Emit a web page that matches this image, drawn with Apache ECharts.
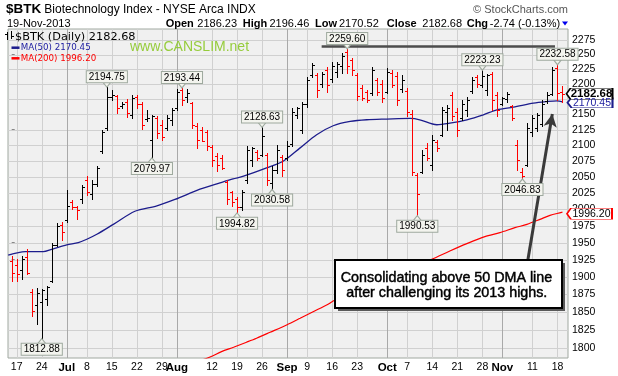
<!DOCTYPE html>
<html><head><meta charset="utf-8">
<script src="https://cdn.jsdelivr.net/npm/echarts@6/dist/echarts.min.js"></script>
<style>html,body{margin:0;padding:0;background:#fff}#c{width:618px;height:376px}</style>
</head><body><div id="c"></div>
<script>
// ---- data (index 0 = 14-Jun-2013 ... index 110 = 19-Nov-2013, trading days) ----
const opens = [
1922.8,1916.9,1909.7,1928.6,1878.1,1859.7,1864.0,1868.2,1894.3,1946.2,
1975.9,1983.4,2010.6,2003.0,2015.2,2045.9,2022.9,2039.7,2091.4,2128.1,
2178.8,2180.4,2164.0,2170.5,2149.2,2178.8,2167.2,2142.7,2108.9,2144.4,
2133.0,2128.1,2141.1,2160.7,2190.3,2178.8,2168.9,2131.4,2124.9,2121.7,
2097.8,2083.5,2080.4,2042.8,2025.9,2015.2,2003.0,2045.9,2077.2,2089.8,
2085.1,2085.1,2041.3,2061.5,2081.9,2080.4,2102.5,2149.2,2124.9,2167.2,
2215.4,2215.4,2200.3,2223.8,2208.7,2220.4,2230.6,2254.4,2240.7,2215.4,
2193.6,2187.0,2185.4,2207.0,2200.3,2187.0,2218.8,2213.7,2192.0,2188.7,
2150.9,2053.7,2058.4,2096.2,2069.4,2105.7,2116.9,2154.1,2182.1,2154.1,
2144.4,2157.4,2188.7,2212.0,2198.7,2190.3,2217.1,2182.1,2167.2,2175.4,
2164.0,2101.0,2058.4,2069.4,2121.7,2128.1,2134.6,2172.2,2183.8,2227.2,2186.23];
const highs = [
1930.5,1925.7,1930.5,1940.3,1882.4,1883.4,1882.4,1886.3,1950.2,1980.0,
1980.9,2029.0,2013.7,2005.0,2036.7,2051.0,2045.9,2066.7,2124.9,2194.75,
2190.3,2182.1,2171.0,2175.4,2182.1,2182.1,2171.0,2157.4,2149.2,2146.5,
2141.1,2149.2,2160.7,2191.0,2193.44,2192.0,2171.0,2136.2,2129.8,2124.9,
2100.9,2088.3,2085.1,2045.9,2027.9,2018.3,2030.5,2098.2,2097.8,2093.0,
2128.63,2088.3,2066.7,2100.9,2085.1,2106.2,2160.7,2162.8,2171.0,2212.5,
2235.6,2218.8,2220.9,2229.4,2237.8,2237.8,2252.2,2259.60,2243.6,2218.8,
2198.7,2190.3,2229.4,2209.9,2207.0,2226.7,2223.8,2220.9,2215.4,2193.6,
2157.4,2056.4,2093.0,2103.6,2116.9,2108.9,2162.8,2165.6,2187.5,2160.7,
2173.8,2179.2,2212.5,2215.4,2223.23,2217.1,2220.9,2187.5,2179.2,2187.5,
2165.6,2108.9,2064.6,2136.2,2149.2,2152.0,2173.8,2187.5,2229.4,2232.58,2196.46];
const lows = [
1894.3,1894.3,1896.7,1903.9,1844.7,1833.2,1812.88,1859.7,1891.9,1945.2,
1954.1,1980.4,2000.0,1984.9,2010.2,2021.8,2015.2,2035.6,2087.8,2124.9,
2173.8,2152.5,2160.7,2146.0,2144.4,2160.7,2126.5,2138.3,2079.97,2111.6,
2108.9,2124.9,2133.0,2157.4,2165.6,2171.0,2128.1,2096.2,2106.2,2093.0,
2066.7,2058.8,2063.1,2007.6,2005.0,1994.82,1998.5,2040.8,2066.7,2077.2,
2082.5,2038.2,2030.58,2056.4,2051.1,2077.2,2098.2,2144.4,2119.6,2162.8,
2212.5,2179.2,2195.8,2187.5,2204.2,2212.5,2218.3,2218.3,2215.4,2173.8,
2173.8,2171.0,2182.1,2182.1,2171.0,2184.9,2195.8,2165.6,2187.5,2147.6,
2053.7,1990.53,2056.4,2077.2,2061.5,2090.3,2114.2,2124.9,2141.1,2114.2,
2141.1,2146.5,2184.9,2195.8,2195.8,2182.1,2157.4,2146.5,2165.6,2171.0,
2141.1,2061.5,2046.83,2066.7,2114.2,2122.2,2130.2,2168.4,2182.1,2173.8,2170.52];
const closes = [
1905.3,1903.9,1925.7,1905.3,1851.7,1876.7,1881.0,1885.3,1946.2,1974.4,
1965.5,2005.0,2003.0,1998.5,2033.6,2027.4,2039.7,2064.6,2121.7,2178.8,
2182.1,2160.7,2167.2,2152.5,2177.1,2167.2,2133.0,2144.4,2147.6,2120.1,
2113.7,2144.4,2157.4,2187.0,2173.8,2185.4,2133.0,2108.9,2107.3,2099.4,
2077.2,2069.4,2064.6,2015.2,2010.6,2003.0,2027.4,2093.0,2096.2,2080.4,
2115.3,2045.9,2061.5,2093.0,2061.5,2099.4,2154.1,2160.7,2167.2,2207.0,
2232.3,2190.3,2217.1,2198.7,2230.6,2233.9,2247.5,2230.6,2223.8,2180.4,
2177.1,2173.8,2223.8,2187.0,2177.1,2220.4,2198.7,2173.8,2207.0,2154.1,
2058.4,2022.9,2085.1,2080.4,2108.9,2096.2,2157.4,2160.7,2147.6,2124.9,
2167.2,2173.8,2207.0,2200.3,2213.7,2215.4,2173.8,2157.4,2177.1,2183.8,
2144.4,2077.2,2052.1,2128.1,2144.4,2149.2,2167.2,2182.1,2223.8,2185.42,2182.68];
const prevClose0 = 1916.0;

const ma50 = [[-0.7,1931.5],[2.7,1936.9],[6.3,1936.9],[8,1940.3],[11,1946.7],[13.3,1950.2],[15,1955.1],
[17,1962.5],[20.3,1977.4],[24.6,1997.2],[29,2005.5],[32.6,2015.2],[37.6,2031.0],[41.6,2040.8],[44.2,2047.0],
[46.3,2051.1],[50.9,2064.1],[54.2,2074.6],[57.6,2095.8],[60.9,2116.9],[64.2,2131.4],[67.6,2138.3],
[70.9,2141.1],[74.9,2142.2],[79.6,2143.2],[81.5,2141.1],[84.9,2133.0],[87.5,2135.6],[90.9,2141.1],
[94.2,2149.2],[96.9,2157.4],[100.2,2161.8],[104.2,2168.4],[106.9,2171.0],[108.9,2172.2],[110,2170.45]];
const ma200 = [[36,1779.0],[39.6,1787.6],[41.9,1795.0],[44.3,1801.0],[46.9,1807.9],[48.9,1813.4],[51.6,1821.6],
[54.9,1831.8],[57.6,1841.1],[60.2,1850.3],[62.9,1859.7],[64.6,1866.8],[83.9,1925.7],[87.5,1937.8],
[90.9,1948.7],[94.5,1959.1],[97.5,1965.0],[100.5,1972.4],[102.9,1977.4],[105.5,1984.9],[107.5,1991.0],
[109.8,1995.5],[110,1996.20]];

const tickIdx = [1,6,11,15,20,25,30,33,40,45,50,55,59,64,69,75,79,84,89,94,98,104,109];
const tickLabels = ['17','24','Jul','8','15','22','29','Aug','12','19','26','Sep','9','16','23','Oct','7','14','21','28','Nov','11','18'];
const monthIdx = [11,33,55,75,98];
const yTicks = [1800,1825,1850,1875,1900,1925,1950,1975,2000,2025,2050,2075,2100,2125,2150,2175,2200,2225,2250,2275];

// callouts: [index, value, 'h' (above high) | 'l' (below low)]
const callouts = [[19,2194.75,'h'],[34,2193.44,'h'],[28,2079.97,'l'],[6,1812.88,'l'],[50,2128.63,'h'],
[52,2030.58,'l'],[45,1994.82,'l'],[67,2259.60,'h'],[81,1990.53,'l'],[94,2223.23,'h'],[102,2046.83,'l'],[109,2232.58,'h']];
const lastClose = 2182.68, lastMa50 = 2170.45, lastMa200 = 1996.20;
const resistance = [61.9, 108.5, 2264.7];
const arrowFrom = [103.04, 1922.8], arrowTo = [107.97, 2150.6];

// ---- build ----
const L = Math.log;
const FONT = '"Liberation Sans", Arial, sans-serif';
const ohlc = opens.map((o, i) => {
  const pc = i === 0 ? prevClose0 : closes[i - 1];
  return [i, L(o), L(highs[i]), L(lows[i]), L(closes[i]), closes[i] < pc ? 1 : 0];
});
// grid lines: [kind, xIndex, yLogValue]  kind 0 = horizontal, 1 = weekly, 2 = month start
const gridData = yTicks.map(v => [0, 50, L(v)]).concat(tickIdx.map(i => [monthIdx.indexOf(i) >= 0 ? 2 : 1, i, L(2000)]));

function gridRender(params, api) {
  const cs = params.coordSys;
  const kind = api.value(0);
  const p = api.coord([api.value(1), api.value(2)]);
  if (kind === 0) {
    const y = Math.round(p[1]) + 0.5;
    return {type: 'line', shape: {x1: cs.x, y1: y, x2: cs.x + cs.width, y2: y}, style: {stroke: '#d0d0d0', lineWidth: 1}};
  }
  const x = Math.round(p[0]) + 0.5;
  return {type: 'line', shape: {x1: x, y1: cs.y, x2: x, y2: cs.y + cs.height},
    style: {stroke: kind === 2 ? '#a9a9a9' : '#d0d0d0', lineWidth: 1}};
}
function ohlcRender(params, api) {
  const i = api.value(0);
  const o = api.coord([i, api.value(1)]), h = api.coord([i, api.value(2)]);
  const l = api.coord([i, api.value(3)]), c = api.coord([i, api.value(4)]);
  const x = Math.round(h[0]) + 0.5;
  const col = api.value(5) ? '#ff0000' : '#000000';
  const oy = Math.round(o[1]) + 0.5, cy = Math.round(c[1]) + 0.5;
  return {type: 'group', children: [
    {type: 'line', shape: {x1: x, y1: Math.round(h[1]), x2: x, y2: Math.round(l[1]) + 1}, style: {stroke: col, lineWidth: 1}},
    {type: 'line', shape: {x1: x - 2.5, y1: oy, x2: x, y2: oy}, style: {stroke: col, lineWidth: 1}},
    {type: 'line', shape: {x1: x, y1: cy, x2: x + 2.5, y2: cy}, style: {stroke: col, lineWidth: 1}}
  ]};
}

const boxFill = '#f3f4ee', boxLine = '#9ea99e';
const marks = [];
callouts.forEach(([i, v, k]) => {
  marks.push({coord: [i, L(v)], symbol: k === 'h' ? 'path://M0,0 L8,0 L4,5 Z' : 'path://M4,0 L8,5 L0,5 Z',
    symbolSize: [8, 5], symbolOffset: [0, k === 'h' ? -2.5 : 2.5],
    itemStyle: {color: boxFill, borderColor: boxLine, borderWidth: 1}, label: {show: false}});
});
callouts.forEach(([i, v, k]) => {
  marks.push({coord: [i, L(v)], symbol: 'circle', symbolSize: 0.1, itemStyle: {color: 'rgba(0,0,0,0)'},
    label: {show: true, position: k === 'h' ? 'top' : 'bottom', distance: 5, formatter: v.toFixed(2),
      fontFamily: FONT, fontSize: 10, lineHeight: 10, color: '#000', backgroundColor: boxFill,
      borderColor: boxLine, borderWidth: 1, padding: [1, 2, 0, 2]}});
});
const tagPath = 'path://M0,5 L4,0 L46,0 L46,10 L4,10 Z';
marks.push({coord: [110, L(lastMa200)], symbol: tagPath, symbolSize: [45, 11], symbolOffset: [27, 1.8], symbolKeepAspect: false,
  itemStyle: {color: '#fff', borderColor: '#ff0000', borderWidth: 1},
  label: {show: true, position: 'inside', offset: [2, 0], formatter: lastMa200.toFixed(2), fontFamily: FONT, fontSize: 10.5, color: '#000'}});
marks.push({coord: [110, L(lastMa50)], symbol: tagPath, symbolSize: [45, 10], symbolOffset: [27.5, 0.8], symbolKeepAspect: false,
  itemStyle: {color: '#fff', borderColor: '#1c1c8c', borderWidth: 1},
  label: {show: true, position: 'inside', offset: [2, 0], formatter: lastMa50.toFixed(2), fontFamily: FONT, fontSize: 10.5, color: '#1c1ca0'}});
marks.push({coord: [110, L(lastClose)], symbol: tagPath, symbolSize: [46, 11], symbolOffset: [27, -0.8], symbolKeepAspect: false,
  itemStyle: {color: '#fff', borderColor: '#000', borderWidth: 1},
  label: {show: true, position: 'inside', offset: [2, 0], formatter: lastClose.toFixed(2), fontFamily: FONT, fontSize: 11.5, fontWeight: 'bold', color: '#000'}});

function txt(x, y, text, font, fill, align, extra) {
  const st = {text: text, font: font, fill: fill || '#000', align: align || 'left', textAlign: align || 'left',
      verticalAlign: 'middle', textVerticalAlign: 'middle'};
  if (extra) Object.assign(st, extra);
  return {type: 'text', x: x, y: y, z: 120, style: st};
}
const graphics = [
  txt(6, 9.5, '$BTK', 'bold 13.5px ' + FONT),
  txt(44.3, 9.5, 'Biotechnology Index - NYSE Arca INDX', '12px ' + FONT),
  txt(7, 23.5, '19-Nov-2013', '11px ' + FONT),
  txt(165.7, 23.5, 'Open', 'bold 11px ' + FONT),
  txt(197.3, 23.5, '2186.23', '11px ' + FONT),
  txt(242.7, 23.5, 'High', 'bold 11px ' + FONT),
  txt(269.5, 23.5, '2196.46', '11px ' + FONT),
  txt(315, 23.5, 'Low', 'bold 11px ' + FONT),
  txt(339, 23.5, '2170.52', '11px ' + FONT),
  txt(386.7, 23.5, 'Close', 'bold 11px ' + FONT),
  txt(422.3, 23.5, '2182.68', '11px ' + FONT),
  txt(466.7, 23.5, 'Chg', 'bold 11px ' + FONT),
  txt(489.8, 23.5, '-2.74 (-0.13%)', '11px ' + FONT),
  {type: 'polygon', z: 120, shape: {points: [[562, 21.5], [568, 21.5], [565, 25.5]]}, style: {fill: '#0000ee'}},
  txt(568, 10, '\u00A9 StockCharts.com', '11px ' + FONT, '#555', 'right'),
  // legend
  {type: 'line', z: 120, shape: {x1: 7.5, y1: 32, x2: 7.5, y2: 40}, style: {stroke: '#000', lineWidth: 1}},
  {type: 'line', z: 120, shape: {x1: 5, y1: 34.5, x2: 7.5, y2: 34.5}, style: {stroke: '#000', lineWidth: 1}},
  {type: 'line', z: 120, shape: {x1: 11.5, y1: 31, x2: 11.5, y2: 39}, style: {stroke: '#000', lineWidth: 1}},
  {type: 'line', z: 120, shape: {x1: 11.5, y1: 36.5, x2: 14, y2: 36.5}, style: {stroke: '#000', lineWidth: 1}},
  txt(15, 36.7, '$BTK (Daily) 2182.68', '11.3px "DejaVu Sans", sans-serif'),
  {type: 'line', z: 120, shape: {x1: 11.5, y1: 47.7, x2: 19.5, y2: 47.7}, style: {stroke: '#1c1c8c', lineWidth: 2.5}},
  txt(20.7, 47.7, 'MA(50) 2170.45', '8.7px "DejaVu Sans", sans-serif', '#1c1ca0'),
  {type: 'line', z: 120, shape: {x1: 11.5, y1: 58.3, x2: 19.5, y2: 58.3}, style: {stroke: '#ff0000', lineWidth: 2.5}},
  txt(20.7, 58.3, 'MA(200) 1996.20', '8.7px "DejaVu Sans", sans-serif', '#ff0000'),
  txt(130, 46.7, 'www.CANSLIM.net', '14px ' + FONT, '#96cc3c'),
  // annotation box
  {type: 'rect', z: 110, shape: {x: 338, y: 263, width: 227, height: 48}, style: {fill: '#5a5a5a'}},
  {type: 'rect', z: 111, shape: {x: 335, y: 260, width: 227, height: 48}, style: {fill: '#fff', stroke: '#000', lineWidth: 2}},
  txt(446.5, 277.7, 'Consolidating above 50 DMA line', '14.3px ' + FONT, '#000', 'center', {stroke: '#000', lineWidth: 0.45}),
  txt(446.8, 293.3, 'after challenging its 2013 highs.', '14.3px ' + FONT, '#000', 'center', {stroke: '#000', lineWidth: 0.45})
];

const chart = echarts.init(document.getElementById('c'), null, {renderer: 'canvas'});
chart.setOption({
  animation: false,
  backgroundColor: '#fff',
  grid: {left: 8, right: 50, top: 29, bottom: 18, show: true, backgroundColor: '#f0f0f0',
    borderColor: '#a0a8a0', borderWidth: 1, containLabel: false, outerBoundsMode: 'none'},
  xAxis: {type: 'value', min: -0.74, max: 111.1,
    axisLine: {show: false}, axisTick: {show: false}, splitLine: {show: false},
    axisLabel: {customValues: tickIdx, margin: 4, fontSize: 10.5, fontFamily: FONT, color: '#000',
      formatter: function (v) {
        const k = tickIdx.indexOf(Math.round(v));
        if (k < 0) return '';
        return monthIdx.indexOf(tickIdx[k]) >= 0 ? '{m|' + tickLabels[k] + '}' : tickLabels[k];
      },
      rich: {m: {fontWeight: 'bold', fontSize: 11.5, fontFamily: FONT, color: '#000'}}}},
  yAxis: {type: 'value', position: 'right', min: L(1786.3), max: L(2294.1),
    axisLine: {show: false}, splitLine: {show: false},
    axisTick: {show: true, customValues: yTicks.map(L), length: 3, lineStyle: {color: '#888'}},
    axisLabel: {customValues: yTicks.map(L), margin: 4, fontSize: 10.5, fontFamily: FONT, color: '#000',
      formatter: function (v) { return String(Math.round(Math.exp(v))); }}},
  series: [
    {type: 'custom', name: 'gridlines', z: 2, silent: true, clip: false, renderItem: gridRender,
      encode: {x: 1, y: 2}, data: gridData},
    {type: 'line', name: 'MA(200)', z: 2, symbol: 'none', smooth: 0.3, clip: true, silent: true,
      lineStyle: {color: '#ff0000', width: 1.2}, data: ma200.map(p => [p[0], L(p[1])]),
      markLine: {silent: true, symbol: ['none', 'none'], label: {show: false}, data: [
        [{coord: [resistance[0], L(resistance[2])], lineStyle: {color: '#4d4d4d', width: 2.5, type: 'solid'}},
         {coord: [resistance[1], L(resistance[2])], lineStyle: {color: '#4d4d4d', width: 2.5, type: 'solid'}}],
        [{coord: [arrowFrom[0], L(arrowFrom[1])], symbol: 'none', lineStyle: {color: '#3a3a3a', width: 3, type: 'solid'}},
         {coord: [arrowTo[0], L(arrowTo[1])], symbol: 'arrow', symbolSize: [10, 13], lineStyle: {color: '#3a3a3a', width: 3, type: 'solid'}}]
      ]}},
    {type: 'line', name: 'MA(50)', z: 2, symbol: 'none', smooth: 0.3, clip: true, silent: true,
      lineStyle: {color: '#1c1c8c', width: 1.3}, data: ma50.map(p => [p[0], L(p[1])]),
      markPoint: {silent: true, data: marks}},
    {type: 'custom', name: '$BTK', z: 3, silent: true, renderItem: ohlcRender, encode: {x: 0, y: [1, 2, 3, 4]}, data: ohlc}
  ],
  graphic: {elements: graphics}
});
</script>
</body></html>
